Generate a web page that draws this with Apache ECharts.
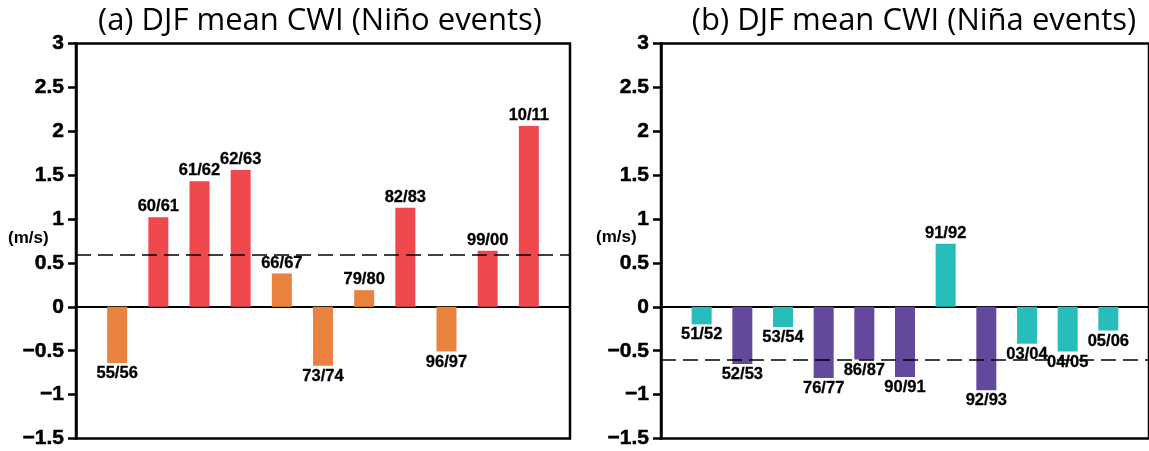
<!DOCTYPE html>
<html>
<head>
<meta charset="utf-8">
<script src="https://cdn.jsdelivr.net/npm/echarts@6/dist/echarts.min.js"></script>
<style>
  html, body { margin: 0; padding: 0; background: #fff; }
  #chart { width: 1149px; height: 451px; }
</style>
</head>
<body>
<div id="chart"></div>
<script>
// DJF mean CWI for El Niño winters (panel a)
const ninoEvents = ['55/56', '60/61', '61/62', '62/63', '66/67', '73/74', '79/80', '82/83', '96/97', '99/00', '10/11'];
const ninoValues = [-0.64, 1.02, 1.43, 1.56, 0.38, -0.67, 0.19, 1.13, -0.51, 0.64, 2.06];
// 1 = highlighted group, 0 = other events
const ninoGroup = [0, 1, 1, 1, 0, 0, 0, 1, 0, 1, 1];
const ninoThreshold = 0.59;

// DJF mean CWI for La Niña winters (panel b)
const ninaEvents = ['51/52', '52/53', '53/54', '76/77', '86/87', '90/91', '91/92', '92/93', '03/04', '04/05', '05/06'];
const ninaValues = [-0.2, -0.65, -0.23, -0.81, -0.6, -0.8, 0.72, -0.95, -0.42, -0.51, -0.27];
const ninaGroup = [0, 1, 0, 1, 1, 1, 0, 1, 0, 0, 0];
const ninaThreshold = -0.6;

const yTicks = { min: -1.5, max: 3, step: 0.5 };

const ninoColors = ['#EA823F', '#EF494D'];
const ninaColors = ['#27BDBA', '#63489B'];

const tickFont = '"Liberation Sans", Arial, sans-serif';
const barLabelFont = '"Liberation Sans", Arial, sans-serif';
const titleFont = '"Open Sans", sans-serif';

function buildData(events, values, groups, colors) {
  return values.map((v, i) => ({
    value: [i + 1, v],
    name: events[i],
    itemStyle: { color: colors[groups[i]] },
    label: { position: v >= 0 ? 'top' : 'bottom' }
  }));
}

function yAxisFor(gridIndex) {
  return {
    type: 'value', gridIndex,
    min: yTicks.min, max: yTicks.max, interval: yTicks.step,
    axisLine: { show: true, lineStyle: { color: '#000', width: 2.5 } },
    axisTick: { show: true, inside: false, length: 8, lineStyle: { color: '#000', width: 2.5 } },
    axisLabel: {
      margin: 12, color: '#000', fontFamily: tickFont, fontWeight: 'bold', fontSize: 21,
      textBorderColor: '#000', textBorderWidth: 0.5,
      formatter: v => String(v).replace('-', '\u2212')
    },
    splitLine: { show: false }
  };
}

function xAxisFor(gridIndex) {
  return {
    type: 'value', gridIndex, min: 0, max: 12,
    axisLine: { show: true, onZero: true, lineStyle: { color: '#000', width: 2 } },
    axisTick: { show: false }, axisLabel: { show: false }, splitLine: { show: false }
  };
}

function barSeries(idx, events, values, groups, colors, threshold) {
  return {
    type: 'bar', xAxisIndex: idx, yAxisIndex: idx,
    barWidth: 20,
    data: buildData(events, values, groups, colors),
    label: {
      show: true, distance: 2, color: '#000',
      fontFamily: barLabelFont, fontWeight: 'bold', fontSize: 16.5,
      textBorderColor: '#000', textBorderWidth: 0.3,
      formatter: p => p.name
    },
    markLine: {
      silent: true, symbol: 'none', label: { show: false },
      lineStyle: { color: '#000', type: [15, 7], width: 1.6 },
      data: [{ yAxis: threshold }]
    },
    animation: false
  };
}

const chart = echarts.init(document.getElementById('chart'));
chart.setOption({
  animation: false,
  backgroundColor: '#fff',
  title: [
    { text: '(a) DJF mean CWI (Niño events)', left: 315, top: 1, textAlign: 'center',
      textStyle: { fontFamily: titleFont, fontWeight: 'normal', fontSize: 31, color: '#000' } },
    { text: '(b) DJF mean CWI (Niña events)', left: 909, top: 1, textAlign: 'center',
      textStyle: { fontFamily: titleFont, fontWeight: 'normal', fontSize: 31, color: '#000' } }
  ],
  grid: [
    { left: 76, top: 43.5, width: 494, height: 395, show: true, borderColor: '#000', borderWidth: 2.5 },
    { left: 661, top: 43.5, width: 494, height: 395, show: true, borderColor: '#000', borderWidth: 2.5 }
  ],
  xAxis: [xAxisFor(0), xAxisFor(1)],
  yAxis: [yAxisFor(0), yAxisFor(1)],
  graphic: [
    { type: 'text', left: 8, top: 230, style: { text: '(m/s)', fill: '#000', font: 'bold 17px "Liberation Sans", Arial, sans-serif' } },
    { type: 'text', left: 596, top: 229, style: { text: '(m/s)', fill: '#000', font: 'bold 17px "Liberation Sans", Arial, sans-serif' } }
  ],
  series: [
    barSeries(0, ninoEvents, ninoValues, ninoGroup, ninoColors, ninoThreshold),
    barSeries(1, ninaEvents, ninaValues, ninaGroup, ninaColors, ninaThreshold)
  ]
});
</script>
</body>
</html>
